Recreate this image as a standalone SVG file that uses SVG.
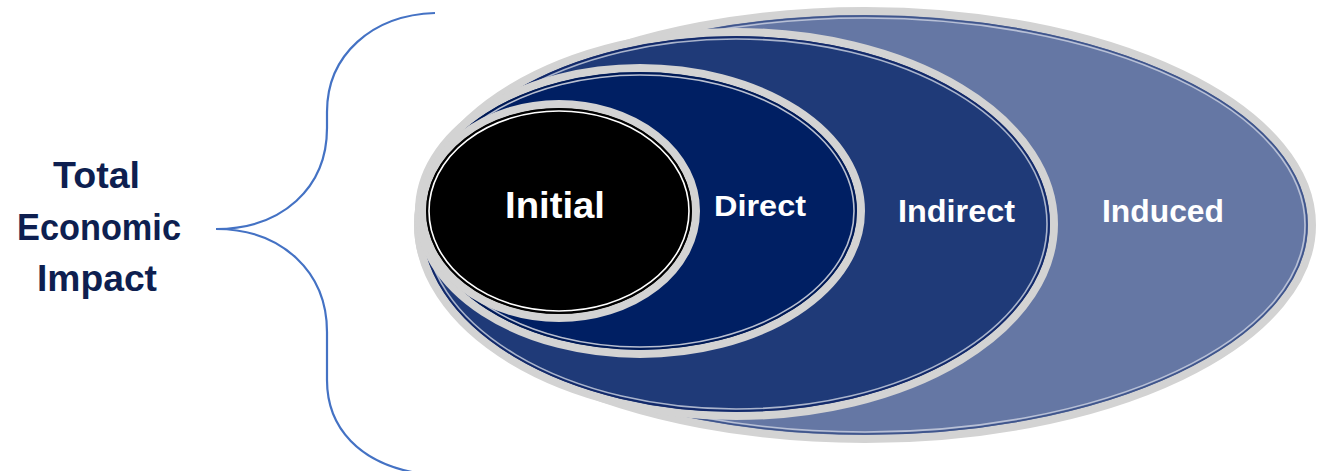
<svg xmlns="http://www.w3.org/2000/svg" width="1321" height="471" viewBox="0 0 1321 471">
  <style>
    .rim { fill: none; stroke: #d3d3d3; stroke-width: 8; }
    .edge { fill: none; stroke-width: 1.6; }
    .label { font-family: "Liberation Sans", Arial, sans-serif; font-weight: bold; fill: #ffffff; text-anchor: middle; }
    .title { font-family: "Liberation Sans", Arial, sans-serif; font-weight: bold; fill: #0e1f50; font-size: 36px; text-anchor: middle; }
  </style>
  <rect width="1321" height="471" fill="#ffffff"/>

  <!-- brace grouping all impact rings -->
  <g id="connectors">
    <path d="M435,13 C372,15 327,55 327,112 L327,128 C327,188 282,229 216,229 C282,229 327,272 327,332 L327,380 C327,430 362,462 412,472" fill="none" stroke="#4472c4" stroke-width="2.2"/>
  </g>

  <g id="title">
    <text class="title" x="96.5" y="188" textLength="87" lengthAdjust="spacingAndGlyphs">Total</text>
    <text class="title" x="99" y="240" textLength="164" lengthAdjust="spacingAndGlyphs">Economic</text>
    <text class="title" x="97" y="291" textLength="120" lengthAdjust="spacingAndGlyphs">Impact</text>
  </g>

  <g id="induced">
    <ellipse cx="865" cy="225" rx="447" ry="214" fill="#6577a4"/>
    <ellipse class="rim" cx="865" cy="225" rx="447" ry="214"/>
    <ellipse class="edge" cx="865" cy="225" rx="442" ry="209" stroke="#3f558c"/>
    <ellipse class="edge" cx="865" cy="225" rx="440" ry="207" stroke="#b8c0d6" stroke-width="1"/>
    <text class="label" x="1163" y="222" font-size="32" textLength="122" lengthAdjust="spacingAndGlyphs">Induced</text>
  </g>

  <g id="indirect">
    <ellipse cx="736" cy="224" rx="318" ry="192" fill="#1f3a78"/>
    <ellipse class="rim" cx="736" cy="224" rx="318" ry="192"/>
    <ellipse class="edge" cx="736" cy="224" rx="313" ry="187" stroke="#13296a"/>
    <ellipse class="edge" cx="736" cy="224" rx="311" ry="185" stroke="#aab4cc" stroke-width="1"/>
    <text class="label" x="956.5" y="222" font-size="32" textLength="117" lengthAdjust="spacingAndGlyphs">Indirect</text>
  </g>

  <g id="direct">
    <ellipse cx="640" cy="211" rx="221" ry="143" fill="#001f63"/>
    <ellipse class="rim" cx="640" cy="211" rx="221" ry="143"/>
    <ellipse class="edge" cx="640" cy="211" rx="216" ry="138" stroke="#001a55"/>
    <ellipse class="edge" cx="640" cy="211" rx="214" ry="136" stroke="#b8bfd0" stroke-width="1"/>
    <text class="label" x="760" y="216" font-size="30" textLength="92" lengthAdjust="spacingAndGlyphs">Direct</text>
  </g>

  <g id="initial">
    <ellipse cx="559" cy="211" rx="137" ry="107" fill="#000000"/>
    <ellipse class="rim" cx="559" cy="211" rx="137" ry="107"/>
    <ellipse class="edge" cx="559" cy="211" rx="132" ry="102" stroke="#000000"/>
    <ellipse class="edge" cx="559" cy="211" rx="130" ry="100" stroke="#ffffff" stroke-width="1.2"/>
    <text class="label" x="555" y="218" font-size="37" textLength="100" lengthAdjust="spacingAndGlyphs">Initial</text>
  </g>
</svg>
